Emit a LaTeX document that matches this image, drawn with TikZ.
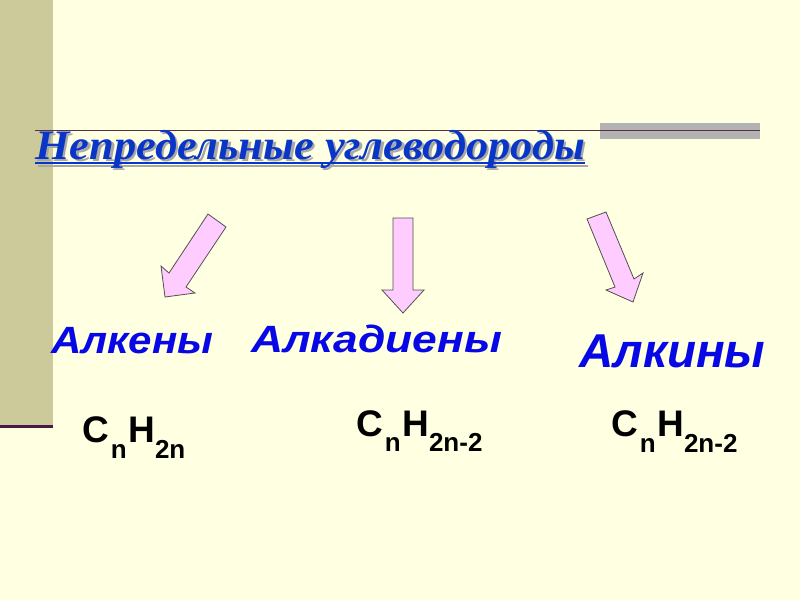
\documentclass[tikz,border=0pt]{standalone}
\usepackage{fontspec}
\setmainfont{Liberation Sans}
\newfontfamily\titlefont{Liberation Serif}
\definecolor{bgcol}{HTML}{FFFFE1}
\definecolor{barcol}{HTML}{CCC99A}
\definecolor{barline}{HTML}{4B1845}
\definecolor{greybar}{HTML}{B2B2B2}
\definecolor{rulecol}{HTML}{5A3040}
\definecolor{titleblue}{HTML}{0A36C8}
\definecolor{labelblue}{HTML}{0808E6}
\definecolor{shadowcol}{HTML}{A8A8A8}
\definecolor{arrowfill}{HTML}{FFCCFF}
\definecolor{arrowdraw}{HTML}{505050}
\tikzset{
  titletext/.style={inner sep=0pt, anchor=base west, font=\titlefont\fontsize{42}{42}\selectfont\bfseries\itshape},
  classlabel/.style={inner sep=0pt, anchor=base west, text=labelblue, font=\fontsize{38}{38}\selectfont\bfseries\itshape},
  formula/.style={inner sep=0pt, anchor=base west, text=black, font=\fontsize{37}{37}\selectfont\bfseries},
  blockarrow/.style={fill=arrowfill, draw=arrowdraw, line width=0.8pt, line join=miter}
}
\newcommand{\subs}[1]{\raisebox{-15.5pt}{\fontsize{26}{26}\selectfont #1}}
\newcommand{\titlestr}{\scalebox{1.058}[1]{Непредельные углеводороды}}
\begin{document}
\begin{tikzpicture}[x=1pt,y=-1pt]
\useasboundingbox (0,0) rectangle (800,600);
\fill[bgcol] (0,0) rectangle (800,600);
\fill[barcol] (0,0) rectangle (53,425);
\fill[barline] (0,425) rectangle (53,428);
% title rule
\fill[greybar] (600,123) rectangle (760,139);
\draw[rulecol, line width=1.5pt] (35,130.5) -- (760,130.5);
% title with shadow
\node[titletext, text=shadowcol] (titleshadow) at (37.5,161.5) {\titlestr};
\draw[shadowcol, line width=2.2pt] ([yshift=-4.3pt]titleshadow.base west) -- ([yshift=-4.3pt]titleshadow.base east);
\node[titletext, text=titleblue] (title) at (35,159) {\titlestr};
\draw[titleblue, line width=2.2pt] ([yshift=-4.3pt]title.base west) -- ([yshift=-4.3pt]title.base east);
% block arrows
\draw[blockarrow] (208,214) -- (169,273) -- (161,266) -- (165,297) -- (195,293) -- (186,287) -- (226,227) -- cycle;
\draw[blockarrow] (393,218) -- (393,290) -- (382,290) -- (403,313) -- (424,290) -- (413,290) -- (413,218) -- cycle;
\draw[blockarrow] (587,219) -- (615,287) -- (606,290) -- (633,302) -- (643,273) -- (634,279) -- (606,212) -- cycle;
% class labels
\node[classlabel] (alkenes) at (51,353) {\scalebox{1.105}[1]{Алкены}};
\node[classlabel] (alkadienes) at (251,352) {\scalebox{1.167}[1]{Алкадиены}};
\node[classlabel, font=\fontsize{47.5}{47.5}\selectfont\bfseries\itshape] (alkynes) at (579,367) {Алкины};
% formulas
\node[formula] (f1) at (82,442.7) {C\hspace{2pt}\subs{n}\hspace{1.5pt}H\subs{2n}};
\node[formula] (f2) at (356,436) {C\hspace{2pt}\subs{n}\hspace{1.5pt}H\subs{2n-2}};
\node[formula] (f3) at (611,436.7) {C\hspace{2pt}\subs{n}\hspace{1.5pt}H\subs{2n-2}};
\end{tikzpicture}
\end{document}
